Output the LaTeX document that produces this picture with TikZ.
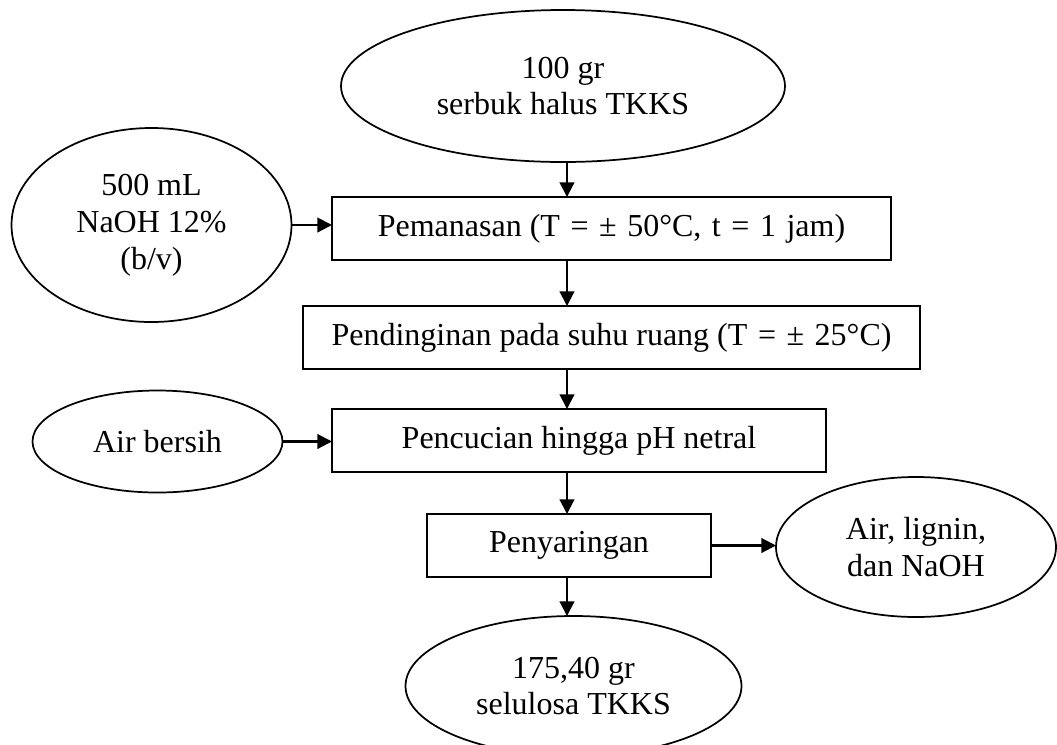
\documentclass[tikz,border=0pt]{standalone}
\usepackage{fontspec}
\setmainfont{Liberation Serif}
\usetikzlibrary{shapes.geometric,arrows.meta}
\newcommand{\mysp}{\hspace{0.33em}}
\tikzset{
  stepbox/.style={draw, line width=1.4pt, rectangle, inner sep=0pt, outer sep=0pt, align=center,
    font=\fontsize{24}{27.6}\selectfont},
  oval/.style={draw, line width=1.3pt, ellipse, inner sep=0pt, outer sep=0pt, align=center,
    font=\fontsize{24}{27.6}\selectfont},
  arr/.style={line width=1.6pt, -{Triangle[length=11pt,width=11pt]}}
}
\begin{document}
\begin{tikzpicture}[x=0.75pt,y=-0.75pt]
\useasboundingbox (0,0) rectangle (1057,744);
\clip (0,0) rectangle (1057,744);
\coordinate (axis) at (567,0);
\node[oval, minimum width=333pt, minimum height=114pt] (top) at (563,86) {100 gr\\serbuk halus TKKS};
\node[oval, minimum width=210pt, minimum height=145.5pt] (naoh) at (151.5,225) {500 mL\\NaOH 12\%\\(b/v)};
\node[stepbox, minimum width=419.25pt, minimum height=47.25pt] (pem) at (611.5,228.5) {Pemanasan (T\mysp=\mysp±\mysp50°C,\mysp t\mysp=\mysp1\mysp jam)};
\node[stepbox, minimum width=462.75pt, minimum height=47.25pt] (pend) at (611.5,337.5) {Pendinginan pada suhu ruang (T\mysp=\mysp±\mysp25°C)};
\node[oval, minimum width=187.5pt, minimum height=76.5pt] (airb) at (157.5,441.5) {Air bersih};
\node[stepbox, minimum width=370.5pt, minimum height=47.25pt] (penc) at (579,440.5) {Pencucian hingga pH netral};
\node[stepbox, minimum width=213pt, minimum height=47.25pt] (peny) at (569,545.5) {Penyaringan};
\node[oval, minimum width=210pt, minimum height=105pt] (airl) at (916,547) {Air, lignin,\\dan NaOH};
\node[oval, minimum width=252pt, minimum height=105pt] (bot) at (573.5,686) {175,40 gr\\selulosa TKKS};

\draw[arr] (top.south -| axis) -- (pem.north -| axis);
\draw[arr] (pem.south -| axis) -- (pend.north -| axis);
\draw[arr] (pend.south -| axis) -- (penc.north -| axis);
\draw[arr] (penc.south -| axis) -- (peny.north -| axis);
\draw[arr] (peny.south -| axis) -- (bot.north -| axis);
\draw[arr] (naoh.east) -- (naoh.east -| pem.west);
\draw[arr] (airb.east) -- (airb.east -| penc.west);
\draw[arr] (peny.east) -- (airl.west |- peny.east);
\end{tikzpicture}
\end{document}
